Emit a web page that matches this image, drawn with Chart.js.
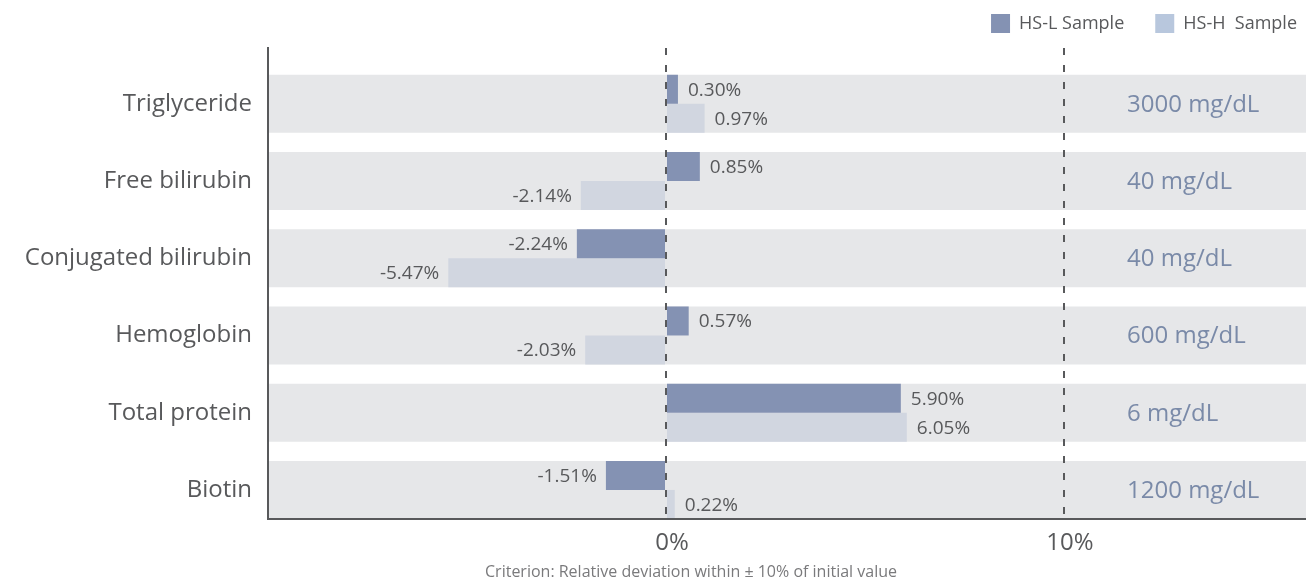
<!DOCTYPE html>
<html>
<head>
<meta charset="utf-8">
<script src="https://cdn.jsdelivr.net/npm/chart.js@4.4.1/dist/chart.umd.min.js"></script>
<style>
  html, body { margin: 0; padding: 0; background: #ffffff; }
  #wrap { width: 1306px; height: 584px; position: relative; }
</style>
</head>
<body>
<div id="wrap"><canvas id="chart"></canvas></div>
<script>
// Interferents tested and the concentration used for each
const categories = ['Triglyceride', 'Free bilirubin', 'Conjugated bilirubin', 'Hemoglobin', 'Total protein', 'Biotin'];
const concentrations = ['3000 mg/dL', '40 mg/dL', '40 mg/dL', '600 mg/dL', '6 mg/dL', '1200 mg/dL'];

// Relative deviation (%) from the initial value
const hsLValues = [0.30, 0.85, -2.24, 0.57, 5.90, -1.51];
const hsHValues = [0.97, -2.14, -5.47, -2.03, 6.05, 0.22];

const seriesNames = ['HS-L Sample', 'HS-H  Sample'];
const xTickValues = [0, 10];
const xTickLabels = ['0%', '10%'];
const xRange = [-10, 16.08];
const caption = 'Criterion: Relative deviation within \u00b1 10% of initial value';

const FONT = "'Open Sans', sans-serif";
const textColor = '#58595b';
const axisColor = '#58595b';
const bandColor = '#e6e7e9';
const hsLColor = '#8492b3';
const hsHColor = '#d1d6e0';
const legendColors = ['#8492b3', '#b8c7dd'];
const concColor = '#7a8aa8';

Chart.defaults.font.family = FONT;
Chart.defaults.color = textColor;

const rows = categories.map((_, i) => i);

// Legend: fixed block height above the plot, pushed towards the right edge
const legendLayout = {
  id: 'legendLayout',
  beforeInit(chart) {
    const legend = chart.legend;
    const baseFit = legend.fit;
    legend.fit = function () {
      baseFit.call(this);
      this.height = 65;
    };
  },
  afterLayout(chart) {
    chart.legend.right += 22;
  }
};

// Percent labels at the end of each bar
const valueLabels = {
  id: 'valueLabels',
  afterDatasetsDraw(chart) {
    const ctx = chart.ctx;
    ctx.save();
    ctx.font = "19px " + FONT;
    ctx.fillStyle = textColor;
    ctx.textBaseline = 'middle';
    [0, 1].forEach(di => {
      const meta = chart.getDatasetMeta(di);
      const ds = chart.data.datasets[di];
      meta.data.forEach((bar, i) => {
        const v = ds.data[i].x;
        const txt = v.toFixed(2) + '%';
        if (v >= 0) {
          ctx.textAlign = 'left';
          ctx.fillText(txt, bar.x + 10, bar.y + 1);
        } else {
          ctx.textAlign = 'right';
          ctx.fillText(txt, bar.x - 9, bar.y + 1);
        }
      });
    });
    ctx.restore();
  }
};

// Concentration column on the right and the criterion note under the axis
const sideTexts = {
  id: 'sideTexts',
  afterDraw(chart) {
    const ctx = chart.ctx;
    const xs = chart.scales.x;
    const ys = chart.scales.y;
    ctx.save();
    ctx.font = "24px " + FONT;
    ctx.fillStyle = concColor;
    ctx.textAlign = 'left';
    ctx.textBaseline = 'middle';
    const colX = xs.getPixelForValue(10) + 63;
    concentrations.forEach((t, i) => {
      ctx.fillText(t, colX, ys.getPixelForValue(i) + 1);
    });
    ctx.font = "16px " + FONT;
    ctx.fillStyle = '#7a7a7c';
    ctx.textAlign = 'center';
    ctx.textBaseline = 'alphabetic';
    ctx.fillText(caption, xs.getPixelForValue(0) + 25, chart.chartArea.bottom + 58);
    ctx.restore();
  }
};

new Chart(document.getElementById('chart'), {
  type: 'bar',
  data: {
    datasets: [
      {
        label: seriesNames[0],
        data: hsLValues.map((v, i) => ({ x: v, y: rows[i] })),
        backgroundColor: hsLColor,
        categoryPercentage: 0.751,
        barPercentage: 1.0,
        order: 1
      },
      {
        label: seriesNames[1],
        data: hsHValues.map((v, i) => ({ x: v, y: rows[i] })),
        backgroundColor: hsHColor,
        categoryPercentage: 0.751,
        barPercentage: 1.0,
        order: 1
      },
      {
        label: 'band',
        data: rows.map(i => ({ x: xRange, y: i })),
        backgroundColor: bandColor,
        categoryPercentage: 0.751,
        barPercentage: 1.0,
        grouped: false,
        order: 5
      }
    ]
  },
  options: {
    indexAxis: 'y',
    responsive: true,
    maintainAspectRatio: false,
    animation: false,
    layout: { padding: { top: -17, left: 0, right: 0, bottom: 0 } },
    plugins: {
      tooltip: { enabled: false },
      legend: {
        display: true,
        position: 'top',
        align: 'end',
        labels: {
          boxWidth: 19,
          boxHeight: 19,
          padding: 31,
          color: textColor,
          font: { size: 18, family: FONT },
          generateLabels(chart) {
            return seriesNames.map((name, i) => ({
              text: name,
              fillStyle: legendColors[i],
              strokeStyle: legendColors[i],
              lineWidth: 0,
              hidden: false,
              datasetIndex: i,
              fontColor: textColor
            }));
          }
        }
      }
    },
    scales: {
      x: {
        type: 'linear',
        position: 'bottom',
        min: xRange[0],
        max: xRange[1],
        offset: false,
        afterBuildTicks(scale) {
          scale.ticks = xTickValues.map(v => ({ value: v }));
        },
        afterFit(scale) { scale.height = 65; },
        ticks: {
          autoSkip: false,
          padding: 10,
          labelOffset: 6,
          color: textColor,
          font: { size: 24, family: FONT },
          callback(value) {
            const k = xTickValues.indexOf(value);
            return k >= 0 ? xTickLabels[k] : '';
          }
        },
        grid: {
          display: true,
          drawOnChartArea: true,
          drawTicks: false,
          color: axisColor,
          lineWidth: 2,
          z: 1
        },
        border: { display: true, color: axisColor, width: 2, dash: [7, 10], z: 1 }
      },
      y: {
        type: 'linear',
        position: 'left',
        reverse: true,
        offset: false,
        min: -0.722,
        max: 5.376,
        afterBuildTicks(scale) {
          scale.ticks = rows.map(v => ({ value: v }));
        },
        afterFit(scale) { scale.width = 268; },
        ticks: {
          autoSkip: false,
          padding: 16,
          color: textColor,
          font: { size: 24, family: FONT },
          callback(value) { return categories[value]; }
        },
        grid: { display: false, drawTicks: false, offset: false },
        border: { display: true, color: axisColor, width: 2, z: 1 }
      }
    }
  },
  plugins: [legendLayout, valueLabels, sideTexts]
});
</script>
</body>
</html>
